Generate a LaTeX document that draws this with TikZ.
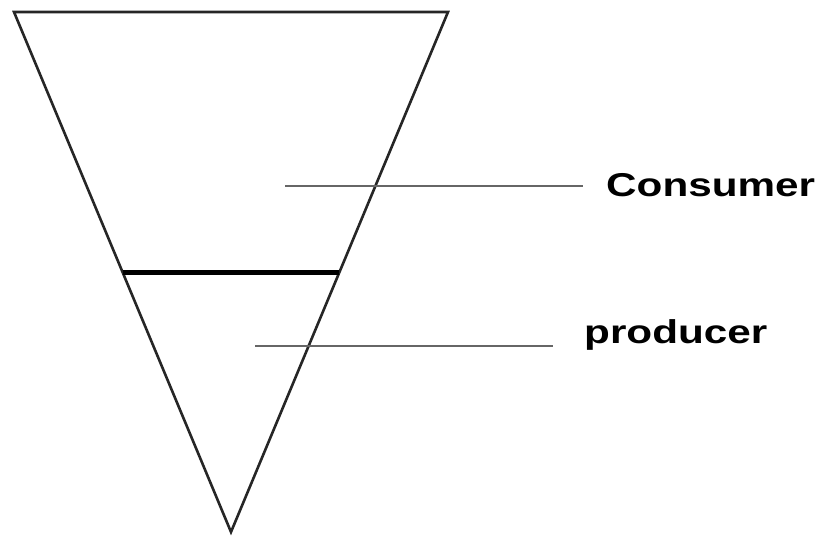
\documentclass[tikz,border=0pt]{standalone}
\usepackage{fontspec}
\setmainfont{Liberation Sans}
\begin{document}
\begin{tikzpicture}[x=1pt,y=-1pt,
  outline/.style={draw=black!85, line width=2.6pt, line join=miter},
  divider/.style={draw=black, line width=4.8pt},
  leader/.style={draw=black!60, line width=2pt},
  lbl/.style={font=\bfseries\fontsize{33}{36}\selectfont, anchor=base west, inner sep=0pt}]
\useasboundingbox (0,0) rectangle (823,536);
\coordinate (tl) at (14,12);
\coordinate (tr) at (448,12);
\coordinate (ap) at (231,532);
\draw[outline] (tl) -- (tr) -- (ap) -- cycle;
\coordinate (dl) at (123,272.5);
\coordinate (dr) at (339,272.5);
\draw[divider] (dl) -- (dr);
\coordinate (c1) at (285,185.5);
\coordinate (c2) at (583,185.5);
\coordinate (p1) at (255,345.7);
\coordinate (p2) at (553,345.7);
\draw[leader] (c1) -- (c2);
\draw[leader] (p1) -- (p2);
\node[lbl] (cons) at (606,196) {\scalebox{1.28}[1]{Consumer}};
\node[lbl] (prod) at (584,343) {\scalebox{1.28}[1]{producer}};
\end{tikzpicture}
\end{document}
